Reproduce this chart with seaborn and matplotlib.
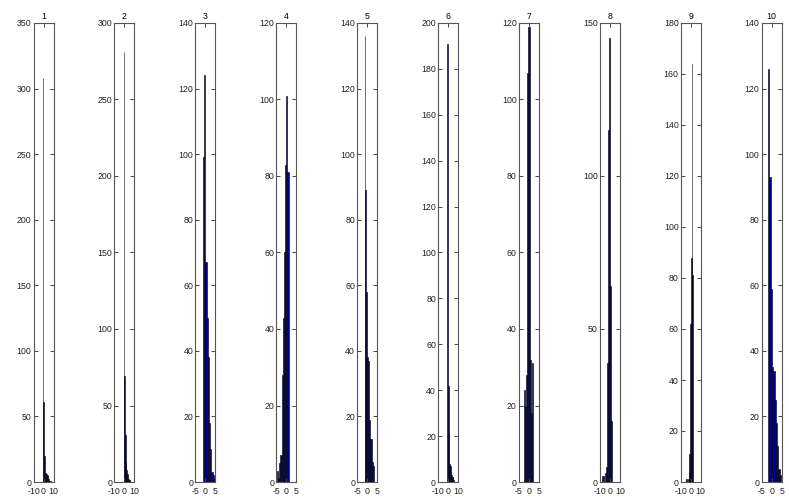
import numpy as np
import pandas as pd
import seaborn as sns
import matplotlib
matplotlib.use('Agg')
import matplotlib.pyplot as plt

# histogram counts per panel
counts1 = [308, 61, 20, 7, 6, 5, 3, 2, 1, 1]
counts2 = [281, 69, 31, 13, 8, 5, 3, 2, 1, 1]
counts3 = [99, 124, 67, 50, 38, 18, 10, 3, 2, 1]
counts4 = [3, 1, 5, 7, 28, 43, 60, 83, 101, 81]
counts5 = [136, 89, 58, 38, 37, 19, 13, 13, 6, 5]
counts6 = [191, 42, 21, 8, 7, 5, 3, 2, 2, 1]
counts7 = [24, 20, 28, 107, 119, 32, 18, 31]
counts8 = [2, 2, 0, 3, 5, 39, 115, 145, 64, 20]
counts9 = [1, 1, 0, 1, 4, 11, 62, 88, 164, 81]
counts10 = [126, 93, 59, 35, 34, 25, 18, 11, 4, 2]
all_counts = [counts1, counts2, counts3, counts4, counts5,
              counts6, counts7, counts8, counts9, counts10]

# first and last bin edge of each histogram
bin_start = [-1.0, -0.6, -1.2, -4.6, -1.3, -0.9, -2.7, -7.8, -5.2, -1.7]
bin_end = [7.5, 6.0, 4.8, 1.2, 3.5, 6.2, 2.1, 1.9, 2.3, 4.6]

# axis ranges and ticks
x_half = [10, 10, 5, 5, 5, 10, 5, 10, 10, 5]
y_max = [350, 300, 140, 120, 140, 200, 120, 150, 180, 140]
y_step = [50, 50, 20, 20, 20, 20, 20, 50, 20, 20]
titles = ['1', '2', '3', '4', '5', '6', '7', '8', '9', '10']

plt.rcParams['font.family'] = ['Liberation Sans', 'DejaVu Sans']
plt.rcParams['font.size'] = 6.3
plt.rcParams['axes.unicode_minus'] = False

fig = plt.figure(figsize=(7.89, 5.0), dpi=100)

W, H = 789, 500
ax_w = 20 / W
ax_h = (482 - 23) / H
ax_b = 1 - 482 / H

for i in range(10):
    left = (33.5 + i * 80.9) / W
    ax = fig.add_axes([left, ax_b, ax_w, ax_h])
    c = all_counts[i]
    edges = np.linspace(bin_start[i], bin_end[i], len(c) + 1)
    df = pd.DataFrame({'value': (edges[:-1] + edges[1:]) / 2, 'count': c})
    sns.histplot(data=df, x='value', weights='count', bins=list(edges),
                 ax=ax, color='#000090', edgecolor='black', linewidth=0.4,
                 alpha=1)
    ax.set_xlim(-x_half[i], x_half[i])
    ax.set_ylim(0, y_max[i])
    ax.set_xticks([-x_half[i], 0, x_half[i]])
    ax.set_yticks(np.arange(0, y_max[i] + 1, y_step[i]))
    ax.set_xlabel('')
    ax.set_ylabel('')
    ax.set_title(titles[i], fontsize=6.3, pad=3)
    ax.tick_params(direction='in', length=3, width=0.7, colors='#444444',
                   labelcolor='#222222', top=True, right=True, pad=1.5)
    ax.tick_params(axis='x', pad=3.5)
    for s in ax.spines.values():
        s.set_color('#555555')
        s.set_linewidth(0.8)

plt.savefig('out.png', dpi=100)
